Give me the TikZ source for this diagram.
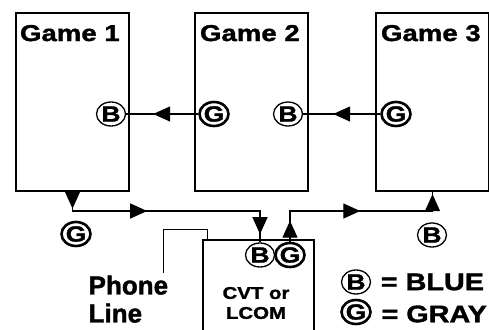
\documentclass[tikz,border=0pt]{standalone}
\usepackage{fontspec}
\setmainfont{Liberation Sans}[BoldFeatures={FakeBold=1.5}]
\newfontfamily\widesf{Liberation Sans}[FakeStretch=1.2,BoldFeatures={FakeBold=1.5}]
\usetikzlibrary{positioning,arrows.meta,shapes.geometric,decorations.markings}

\begin{document}
\begin{tikzpicture}[x=1pt,y=-1pt,line width=1.3pt,every node/.style={font=\bfseries,inner sep=0pt},
  game/.style={draw,minimum width=113pt,minimum height=178pt},
  title/.style={anchor=north west,font=\widesf\bfseries\fontsize{23}{25}\selectfont},
  plug/.style={draw,ellipse,minimum width=29pt,minimum height=24pt,font=\widesf\bfseries\fontsize{22}{22}\selectfont},
  gplug/.style={plug,line width=2.6pt},
  keytext/.style={font=\widesf\bfseries\fontsize{24}{26}\selectfont},
  arrowmark/.style={postaction={decorate,decoration={markings,mark=at position #1 with {\arrow{Triangle[length=17pt,width=15pt]}}}}}]
\useasboundingbox (0,0) rectangle (489,329);
\clip (0,0) rectangle (489,329);
\node[game] (game1) at (72.5,102) {};
\node[game] (game2) at (251.5,102) {};
\node[game] (game3) at (432.5,102) {};
\node[title] (t1) at ([xshift=4pt,yshift=-12pt]game1.north west) {Game 1};
\node[title] (t2) at ([xshift=5pt,yshift=-12pt]game2.north west) {Game 2};
\node[title] (t3) at ([xshift=5pt,yshift=-12pt]game3.north west) {Game 3};
\node[plug] (b1) at (111,114) {B};
\node[gplug] (g2) at (214,114) {G};
\node[plug] (b2) at (288,114) {B};
\node[gplug] (g3) at (396,114) {G};
\node[draw,minimum width=111pt,minimum height=100pt] (cvt) at (258.5,290) {};
\node[align=center,font=\widesf\bfseries\fontsize{17}{20}\selectfont] (cvtlabel) at (256,303) {CVT or\\LCOM};
\node[plug] (bcvt) at (260,255) {B};
\node[gplug] (gcvt) at (290,255) {G};
\node[gplug] (gout) at (76,234) {G};
\node[plug] (bin) at (432,235) {B};
\node[anchor=north west,align=left,font=\bfseries\fontsize{26}{28}\selectfont] (phone) at (88,275) {Phone\\Line};
\node[plug] (keyb) at (356,282) {B};
\node[gplug] (keyg) at (356,312) {G};
\node[keytext,right=9pt of keyb] (keyblue) {= BLUE};
\node[keytext,right=9pt of keyg,yshift=-2pt] (keygray) {= GRAY};
\coordinate (bus) at (0,211);
\draw[arrowmark=45pt] (g2.west) -- (b1.east);
\draw[arrowmark=47pt] (g3.west) -- (b2.east);
\draw[arrowmark=17pt,arrowmark=94pt,arrowmark=230pt] (game1.south) -- (game1.south |- bus) -| (bcvt.north);
\draw[arrowmark=21pt,arrowmark=101pt,arrowmark=190pt] (gcvt.north) -- (gcvt.north |- bus) -| (game3.south);
\draw[line width=1pt] ([xshift=5pt]cvt.north west) -- ++(0,-10) -| ([xshift=-5pt,yshift=2pt]phone.north east);
\end{tikzpicture}
\end{document}
